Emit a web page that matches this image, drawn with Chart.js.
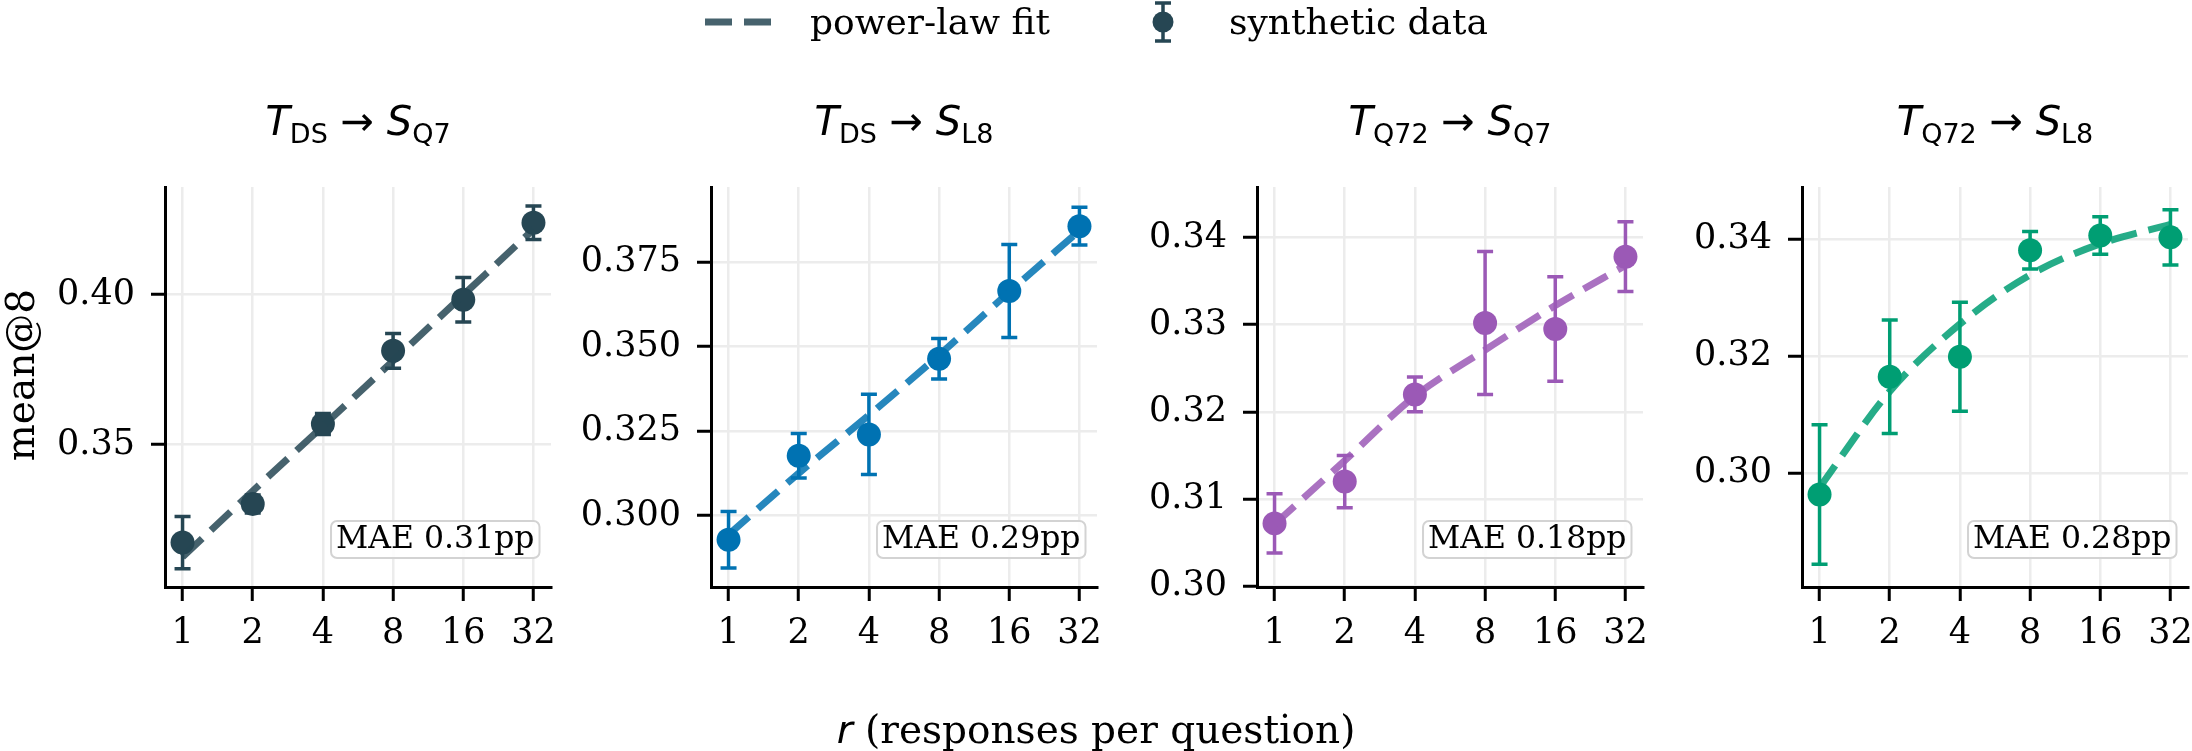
<!DOCTYPE html>
<html>
<head>
<meta charset="utf-8">
<script src="https://cdn.jsdelivr.net/npm/chart.js@4.4.1/dist/chart.umd.min.js"></script>
<style>
  html, body { margin:0; padding:0; background:#fff; overflow:hidden; }
  #fig { position:relative; width:2192px; height:751px; overflow:hidden; background:#fff; }
  .panel { position:absolute; top:150px; width:566px; height:530px; }
  #overlay { position:absolute; left:0; top:0; pointer-events:none; }
</style>
</head>
<body>
<div id="fig">
  <div class="panel" id="p0"><canvas id="c0" width="566" height="530"></canvas></div>
  <div class="panel" id="p1"><canvas id="c1" width="566" height="530"></canvas></div>
  <div class="panel" id="p2"><canvas id="c2" width="566" height="530"></canvas></div>
  <div class="panel" id="p3"><canvas id="c3" width="566" height="530"></canvas></div>
  <svg id="overlay" width="2192" height="751" xmlns="http://www.w3.org/2000/svg">
    <!-- legend -->
    <line x1="705" y1="22" x2="773" y2="22" stroke="rgba(38,70,83,0.85)" stroke-width="7" stroke-dasharray="27 12"/>
    <text x="810" y="34" font-family="DejaVu Serif" font-size="36" fill="#000">power-law fit</text>
    <g stroke="#264653" stroke-width="3.5">
      <line x1="1163" y1="3" x2="1163" y2="41"/>
      <line x1="1155" y1="3" x2="1171" y2="3"/>
      <line x1="1155" y1="41" x2="1171" y2="41"/>
    </g>
    <circle cx="1163" cy="22" r="10.5" fill="#264653"/>
    <text x="1229" y="34" font-family="DejaVu Serif" font-size="36" fill="#000">synthetic data</text>
    <!-- titles -->
    <g font-family="DejaVu Sans" font-size="40" fill="#000" text-anchor="middle">
      <text x="358" y="135"><tspan font-style="italic">T</tspan><tspan font-size="27" dy="8">DS</tspan><tspan dy="-8"> → </tspan><tspan font-style="italic">S</tspan><tspan font-size="27" dy="8">Q7</tspan></text>
      <text x="904" y="135"><tspan font-style="italic">T</tspan><tspan font-size="27" dy="8">DS</tspan><tspan dy="-8"> → </tspan><tspan font-style="italic">S</tspan><tspan font-size="27" dy="8">L8</tspan></text>
      <text x="1450" y="135"><tspan font-style="italic">T</tspan><tspan font-size="27" dy="8">Q72</tspan><tspan dy="-8"> → </tspan><tspan font-style="italic">S</tspan><tspan font-size="27" dy="8">Q7</tspan></text>
      <text x="1995" y="135"><tspan font-style="italic">T</tspan><tspan font-size="27" dy="8">Q72</tspan><tspan dy="-8"> → </tspan><tspan font-style="italic">S</tspan><tspan font-size="27" dy="8">L8</tspan></text>
    </g>
    <!-- axis labels -->
    <text transform="translate(34,375) rotate(-90)" text-anchor="middle" font-family="DejaVu Serif" font-size="39" fill="#000">mean@8</text>
    <text x="1096" y="743" text-anchor="middle" font-family="DejaVu Serif" font-size="39" fill="#000"><tspan font-family="DejaVu Sans" font-style="italic">r</tspan> (responses per question)</text>
  </svg>
</div>
<script>
// ---------- data ----------
const r = [1, 2, 4, 8, 16, 32];
const xTickLabels = ['1', '2', '4', '8', '16', '32'];

// T_DS -> S_Q7
const meanDS_Q7 = [0.3173, 0.3302, 0.3568, 0.3812, 0.3982, 0.4239];
const errDS_Q7  = [0.0087, 0.0030, 0.0035, 0.0058, 0.0074, 0.0056];
const fitDS_Q7  = [0.3125, 0.3345, 0.3561, 0.3779, 0.3998, 0.4217];
const yTicksDS_Q7 = [0.35, 0.40];
const yTickLabelsDS_Q7 = ['0.35', '0.40'];

// T_DS -> S_L8
const meanDS_L8 = [0.2928, 0.3177, 0.3240, 0.3464, 0.3665, 0.3857];
const errDS_L8  = [0.0084, 0.0066, 0.0119, 0.0060, 0.0138, 0.0056];
const fitDS_L8  = [0.2943, 0.3125, 0.3297, 0.3475, 0.3662, 0.3844];
const yTicksDS_L8 = [0.300, 0.325, 0.350, 0.375];
const yTickLabelsDS_L8 = ['0.300', '0.325', '0.350', '0.375'];

// T_Q72 -> S_Q7
const meanQ72_Q7 = [0.3072, 0.3120, 0.3220, 0.3302, 0.3295, 0.3378];
const errQ72_Q7  = [0.0034, 0.0030, 0.0020, 0.0082, 0.0060, 0.0040];
const fitQ72_Q7  = [0.3071, 0.3144, 0.3218, 0.3271, 0.3322, 0.3368];
const yTicksQ72_Q7 = [0.30, 0.31, 0.32, 0.33, 0.34];
const yTickLabelsQ72_Q7 = ['0.30', '0.31', '0.32', '0.33', '0.34'];

// T_Q72 -> S_L8
const meanQ72_L8 = [0.2964, 0.3165, 0.3199, 0.3381, 0.3406, 0.3403];
const errQ72_L8  = [0.0119, 0.0097, 0.0093, 0.0032, 0.0032, 0.0047];
const fitQ72_L8  = [0.2976, 0.3140, 0.3255, 0.3339, 0.3392, 0.3425];
const yTicksQ72_L8 = [0.30, 0.32, 0.34];
const yTickLabelsQ72_L8 = ['0.30', '0.32', '0.34'];

const maeLabels = ['MAE 0.31pp', 'MAE 0.29pp', 'MAE 0.18pp', 'MAE 0.28pp'];
const colors = ['#264653', '#0072b2', '#9b59b6', '#009e73'];
const fitColors = ['rgba(38,70,83,0.85)', 'rgba(0,114,178,0.85)', 'rgba(155,89,182,0.85)', 'rgba(0,158,115,0.85)'];
const yLimits = [[0.3025, 0.4358], [0.2788, 0.3973], [0.2999, 0.3458], [0.2806, 0.3489]];

const panels = [
  { mean: meanDS_Q7, err: errDS_Q7, fit: fitDS_Q7, yt: yTicksDS_Q7, ytl: yTickLabelsDS_Q7 },
  { mean: meanDS_L8, err: errDS_L8, fit: fitDS_L8, yt: yTicksDS_L8, ytl: yTickLabelsDS_L8 },
  { mean: meanQ72_Q7, err: errQ72_Q7, fit: fitQ72_Q7, yt: yTicksQ72_Q7, ytl: yTickLabelsQ72_Q7 },
  { mean: meanQ72_L8, err: errQ72_L8, fit: fitQ72_L8, yt: yTicksQ72_L8, ytl: yTickLabelsQ72_L8 },
];

// ---------- layout ----------
const axisLeft = [165, 711, 1257, 1802];
const Y_AXIS_W = 150, X_AXIS_H = 93, PAD_TOP = 13, PAD_RIGHT = 30;

// ---------- plugins ----------
const errorBars = {
  id: 'errorBars',
  beforeDatasetsDraw(chart, args, opts) {
    const { ctx, scales: { x, y } } = chart;
    const ds = chart.data.datasets[1].data;
    ctx.save();
    ctx.strokeStyle = opts.color;
    ctx.lineWidth = 3.5;
    ds.forEach((p, i) => {
      const px = x.getPixelForValue(p.x);
      const top = y.getPixelForValue(p.y + opts.err[i]);
      const bot = y.getPixelForValue(p.y - opts.err[i]);
      ctx.beginPath();
      ctx.moveTo(px, top); ctx.lineTo(px, bot);
      ctx.moveTo(px - 8, top); ctx.lineTo(px + 8, top);
      ctx.moveTo(px - 8, bot); ctx.lineTo(px + 8, bot);
      ctx.stroke();
    });
    ctx.restore();
  }
};

const maeBox = {
  id: 'maeBox',
  afterDatasetsDraw(chart, args, opts) {
    const { ctx, chartArea } = chart;
    ctx.save();
    ctx.font = '31.5px "DejaVu Serif"';
    const tw = ctx.measureText(opts.text).width;
    const w = tw + 10, h = 37;
    const right = chartArea.right - 11.5, bottom = chartArea.bottom - 29;
    const left = right - w, top = bottom - h;
    ctx.beginPath();
    ctx.roundRect(left, top, w, h, 6);
    ctx.fillStyle = 'rgba(255,255,255,0.9)';
    ctx.fill();
    ctx.strokeStyle = '#d3d3d3';
    ctx.lineWidth = 2;
    ctx.stroke();
    ctx.fillStyle = '#000';
    ctx.textBaseline = 'alphabetic';
    ctx.textAlign = 'left';
    ctx.fillText(opts.text, left + 5, top + 27);
    ctx.restore();
  }
};

Chart.defaults.font.family = 'DejaVu Serif';
Chart.defaults.color = '#000';

panels.forEach((p, i) => {
  document.getElementById('p' + i).style.left = (axisLeft[i] - Y_AXIS_W) + 'px';
  const ctx = document.getElementById('c' + i);
  new Chart(ctx, {
    type: 'line',
    data: {
      datasets: [
        {
          label: 'power-law fit',
          data: r.map((v, k) => ({ x: v, y: p.fit[k] })),
          borderColor: fitColors[i],
          borderWidth: 7,
          borderDash: [27, 12],
          borderCapStyle: 'butt',
          pointRadius: 0,
          cubicInterpolationMode: 'monotone',
          fill: false,
          order: 0
        },
        {
          label: 'synthetic data',
          data: r.map((v, k) => ({ x: v, y: p.mean[k] })),
          showLine: false,
          pointRadius: 12,
          pointHoverRadius: 12,
          pointBackgroundColor: colors[i],
          pointBorderWidth: 0,
          borderColor: colors[i],
          order: 1
        }
      ]
    },
    options: {
      responsive: false,
      maintainAspectRatio: false,
      devicePixelRatio: 1,
      animation: false,
      events: [],
      layout: { padding: { top: PAD_TOP, right: PAD_RIGHT, left: 0, bottom: 0 } },
      plugins: {
        legend: { display: false },
        tooltip: { enabled: false },
        errorBars: { err: p.err, color: colors[i] },
        maeBox: { text: maeLabels[i] }
      },
      scales: {
        x: {
          type: 'logarithmic',
          min: Math.pow(2, -0.25),
          max: Math.pow(2, 5.25),
          afterBuildTicks: s => { s.ticks = r.map(v => ({ value: v })); },
          afterFit: s => { s.height = X_AXIS_H; },
          ticks: {
            autoSkip: false, maxRotation: 0, minRotation: 0,
            padding: 12,
            font: { size: 35, family: 'DejaVu Serif' },
            color: '#000',
            callback: (v, k) => xTickLabels[k]
          },
          grid: { color: '#ececec', lineWidth: 2.5, tickColor: '#000', tickLength: 14, tickWidth: 3, drawTicks: true },
          border: { display: true, color: '#000', width: 3 }
        },
        y: {
          type: 'linear',
          min: yLimits[i][0],
          max: yLimits[i][1],
          afterBuildTicks: s => { s.ticks = p.yt.map(v => ({ value: v })); },
          afterFit: s => { s.width = Y_AXIS_W; },
          ticks: {
            padding: 16,
            font: { size: 35, family: 'DejaVu Serif' },
            color: '#000',
            callback: (v, k) => p.ytl[k]
          },
          grid: { color: '#ececec', lineWidth: 2.5, tickColor: '#000', tickLength: 14, tickWidth: 3, drawTicks: true },
          border: { display: true, color: '#000', width: 3 }
        }
      }
    },
    plugins: [errorBars, maeBox]
  });
});
</script>
</body>
</html>
